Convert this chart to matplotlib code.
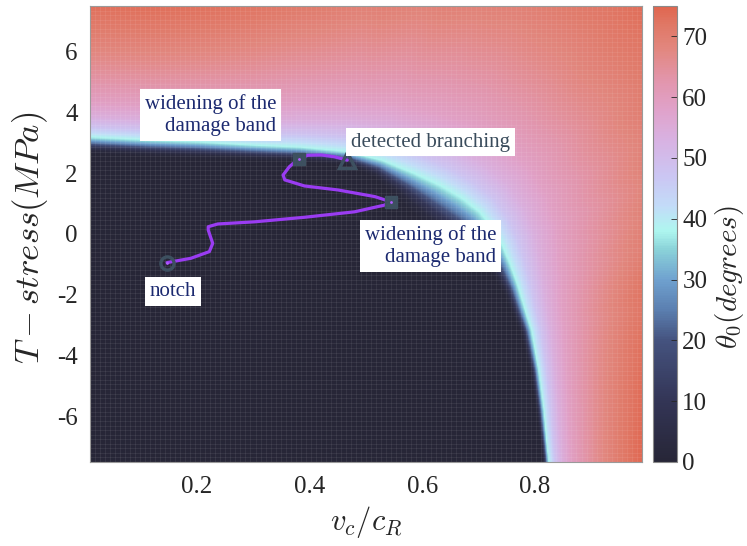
import numpy as np
import matplotlib
matplotlib.use("Agg")
import matplotlib.pyplot as plt
from matplotlib.colors import LinearSegmentedColormap
from matplotlib.path import Path

plt.rcParams['font.family'] = ['Liberation Serif', 'DejaVu Serif']
plt.rcParams['mathtext.fontset'] = 'cm'
plt.rcParams['axes.unicode_minus'] = False

# ---------------- data ----------------
x_range = [0.01, 0.99]          # v_c / c_R
T_range = [-7.5, 7.5]           # T-stress (MPa)

# theta0 = 38 deg contour (bright cyan line)
contour_x = [-0.05, 0.011, 0.118, 0.207, 0.296, 0.382, 0.469, 0.528, 0.584, 0.630,
             0.670, 0.702, 0.725, 0.743, 0.757, 0.770, 0.782, 0.794, 0.807, 0.816,
             0.821, 0.825, 0.827]
contour_T = [3.22, 3.19, 3.09, 3.03, 2.93, 2.86, 2.70, 2.43, 2.01, 1.62,
             1.19, 0.73, 0.20, -0.39, -1.02, -1.70, -2.45, -3.16, -4.47, -5.79,
             -6.78, -7.50, -8.50]
# width (px) of the dark -> cyan transition along that contour
band_in_px = [13, 13, 13, 13, 12, 12, 10, 15, 24, 32, 35, 32, 27, 22, 17, 13, 11, 9, 7, 6,
              5, 5, 5]
# stretch of the cyan -> red transition along that contour
band_out_scale = [1.0, 1.0, 1.0, 1.05, 1.15, 1.3, 1.5, 1.7, 1.9, 2.0, 2.0, 1.95, 1.85, 1.7,
                  1.5, 1.3, 1.1, 0.95, 0.8, 0.72, 0.68, 0.65, 0.65]
# theta0 profile across the band
inner_u = [0.0, 0.25, 0.5, 0.75, 1.0, 1.3]
inner_theta = [38, 31, 22, 10, 3, 0]
outer_d = [0, 5, 10, 20, 35, 55, 80, 110, 140, 400]
outer_theta = [38, 43, 48, 54, 59, 63, 67, 71, 74, 75]

# crack path
path_x = [0.147, 0.189, 0.222, 0.228, 0.220, 0.220, 0.237, 0.302, 0.391, 0.480, 0.533, 0.544,
          0.516, 0.450, 0.391, 0.356, 0.353, 0.364, 0.381, 0.397, 0.421, 0.444, 0.467]
path_T = [-0.94, -0.80, -0.58, -0.31, 0.13, 0.24, 0.33, 0.40, 0.55, 0.73, 0.95, 1.06,
          1.23, 1.45, 1.58, 1.78, 1.94, 2.21, 2.48, 2.59, 2.60, 2.54, 2.43]
notch_pt = (0.147, -0.94)
widening_pts_x = [0.381, 0.544]
widening_pts_T = [2.48, 1.06]
branch_pt = (0.467, 2.43)

# colormap anchors
cmap_vals = [0, 10, 20, 25, 30, 35, 38, 42, 47, 53, 58, 63, 68, 72, 75]
cmap_cols = ['#272637', '#333556', '#45537f', '#5b7fb0', '#6fa1cf', '#8bd3d9', '#aef6ef',
             '#c2dcf8', '#cbc6f3', '#d8b2e2', '#e0a2ca', '#e295ab', '#e2877f', '#e07866', '#e0664f']
cbar_ticks = [0, 10, 20, 30, 40, 50, 60, 70]
x_ticks = [0.2, 0.4, 0.6, 0.8]
y_ticks = [-6, -4, -2, 0, 2, 4, 6]

# ---------------- figure ----------------
W, H = 747, 546
fig = plt.figure(figsize=(W / 100, H / 100), dpi=100)
ax_l, ax_r, ax_b, ax_t = 90, 641.7, 462, 6
ax = fig.add_axes([ax_l / W, (H - ax_b) / H, (ax_r - ax_l) / W, (ax_b - ax_t) / H])

px_x = (ax_r - ax_l) / (x_range[1] - x_range[0])
px_T = (ax_b - ax_t) / (T_range[1] - T_range[0])

# build field table from the contour + profiles
nx, ny = 500, 420
gx = np.linspace(x_range[0], x_range[1], nx)
gy = np.linspace(T_range[0], T_range[1], ny)
GX, GY = np.meshgrid(gx, gy)
P = np.column_stack([GX.ravel() * px_x, GY.ravel() * px_T])
C = np.column_stack([np.array(contour_x) * px_x, np.array(contour_T) * px_T])
A, B = C[:-1], C[1:]
AB = B - A
L2 = (AB ** 2).sum(1)
AP = P[:, None, :] - A[None, :, :]
t = np.clip((AP * AB[None]).sum(2) / L2[None], 0, 1)
proj = A[None] + t[..., None] * AB[None]
dist = np.sqrt(((P[:, None, :] - proj) ** 2).sum(2))
k = dist.argmin(1)
idx = np.arange(len(P))
d = dist[idx, k]
tk = t[idx, k]
bi = np.array(band_in_px, float)
bo = np.array(band_out_scale, float)
b_in = bi[k] + tk * (bi[k + 1] - bi[k])
b_out = bo[k] + tk * (bo[k + 1] - bo[k])

poly = list(zip(contour_x, contour_T)) + [(contour_x[-1], -20), (-1, -20), (-1, contour_T[0])]
inside = Path(poly).contains_points(np.column_stack([GX.ravel(), GY.ravel()]))
theta = np.where(inside, np.interp(d / b_in, inner_u, inner_theta),
                 np.interp(d / b_out, outer_d, outer_theta)).reshape(ny, nx)

cmap = LinearSegmentedColormap.from_list(
    'theta', [(v / 75.0, c) for v, c in zip(cmap_vals, cmap_cols)])

im = ax.imshow(theta, extent=[x_range[0], x_range[1], T_range[0], T_range[1]],
               origin='lower', aspect='auto', cmap=cmap, vmin=0, vmax=75,
               interpolation='bilinear', zorder=1)

# faint mesh texture
ax.vlines(np.linspace(x_range[0], x_range[1], 111), T_range[0], T_range[1],
          colors='white', alpha=0.08, lw=0.6, zorder=2)
ax.hlines(np.linspace(T_range[0], T_range[1], 101), x_range[0], x_range[1],
          colors='white', alpha=0.08, lw=0.6, zorder=2)

ax.set_xlim(x_range)
ax.set_ylim(T_range)

# crack path and markers
mk = '#3d5060'
ax.plot(path_x, path_T, color='#9a3cf2', lw=2.3, zorder=4, solid_capstyle='round')
ax.plot(*notch_pt, marker='o', ms=9.5, mfc='none', mec=mk, mew=2.4, zorder=5)
ax.plot(widening_pts_x, widening_pts_T, ls='none', marker='s', ms=8, mfc=mk, mec=mk, zorder=5)
ax.plot(widening_pts_x, widening_pts_T, ls='none', marker='o', ms=2, mfc='#b05cff',
        mec='none', zorder=6)
ax.plot(notch_pt[0], notch_pt[1], marker='o', ms=2, mfc='#b05cff', mec='none', zorder=6)
ax.plot(*branch_pt, marker='^', ms=11, mfc='none', mec=mk, mew=2.4, zorder=5)

navy = '#1c2a70'
box = dict(facecolor='white', edgecolor='none', pad=3.5)
ax.text(0.3406, 3.92, 'widening of the\ndamage band', ha='right', va='center',
        multialignment='right', fontsize=15, color=navy, bbox=box, linespacing=1.25, zorder=7)
ax.text(0.732, -0.39, 'widening of the\ndamage band', ha='right', va='center',
        multialignment='right', fontsize=15, color=navy, bbox=box, linespacing=1.25, zorder=7)
ax.text(0.474, 3.02, 'detected branching', ha='left', va='center', fontsize=15,
        color='#3a4c5c', bbox=box, zorder=7)
ax.text(0.157, -1.9, 'notch', ha='center', va='center', fontsize=15, color=navy,
        bbox=box, zorder=7)

ax.set_xticks(x_ticks)
ax.set_xticklabels([f'{v:.1f}' for v in x_ticks])
ax.set_yticks(y_ticks)
ax.set_yticklabels([str(v) for v in y_ticks])
ax.tick_params(length=0, labelsize=18, colors='#262626')
ax.tick_params(axis='x', pad=10)
ax.tick_params(axis='y', pad=9)
for s in ax.spines.values():
    s.set_color('#9a9a9a')
    s.set_linewidth(0.8)

fig.text((ax_l + ax_r) / 2 / W, 1 - 522 / H, r'$v_c/c_R$', ha='center', va='center',
         fontsize=22, color='#262626')
fig.text(30 / W, 1 - 238 / H, r'$T-stress(MPa)$', ha='center', va='center',
         rotation=90, fontsize=25, color='#262626')

# colorbar
cax = fig.add_axes([652.7 / W, (H - ax_b) / H, 24 / W, (ax_b - ax_t) / H])
cb = fig.colorbar(im, cax=cax, ticks=cbar_ticks)
cb.outline.set_edgecolor('#8a8a8a')
cb.outline.set_linewidth(0.8)
cax.tick_params(direction='in', length=4, width=0.6, labelsize=18, colors='#262626', pad=4)
fig.text(729 / W, 1 - 277 / H, r'$\theta_0(degrees)$', ha='center', va='center',
         rotation=90, fontsize=21, color='#262626')

fig.savefig('out.png', dpi=100)
